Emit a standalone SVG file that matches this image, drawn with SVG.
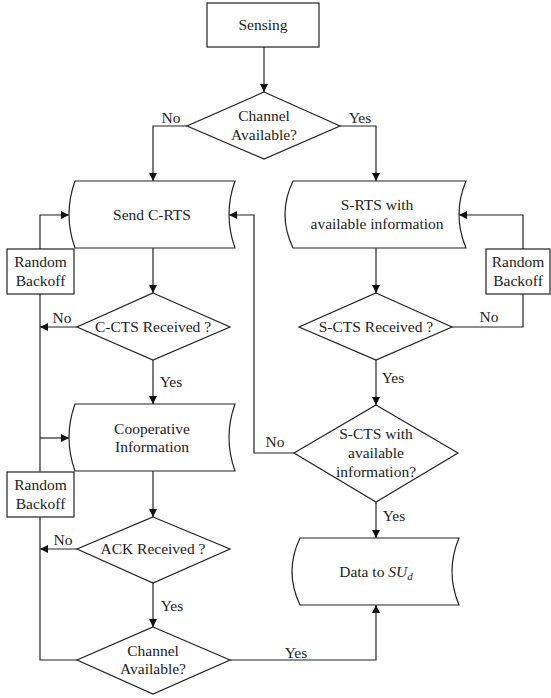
<svg xmlns="http://www.w3.org/2000/svg" width="551" height="698" viewBox="0 0 551 698">
<defs>
<style>
.s{fill:#fff;stroke:#222;stroke-width:1.2}
.c{fill:none;stroke:#222;stroke-width:1.2}
text{font-family:"Liberation Serif","Times New Roman",serif;font-size:15.5px;fill:#222;text-anchor:middle}
.l{text-anchor:middle}
</style>
<marker id="a" viewBox="0 0 10 10" refX="10" refY="5" markerWidth="8" markerHeight="8" markerUnits="userSpaceOnUse" orient="auto">
<path d="M0,0 L10,5 L0,10 z" fill="#111"/>
</marker>
</defs>
<rect width="551" height="698" fill="#fff"/>

<g id="connectors">
<path class="c" d="M264,47 V92" marker-end="url(#a)"/>
<path class="c" d="M187,126 H153 V181" marker-end="url(#a)"/>
<path class="c" d="M340,126 H376 V181" marker-end="url(#a)"/>
<path class="c" d="M153,248 V293" marker-end="url(#a)"/>
<path class="c" d="M153,360 V404" marker-end="url(#a)"/>
<path class="c" d="M77,327 H40" marker-end="url(#a)"/>
<path class="c" d="M40,249 V215 H69" marker-end="url(#a)"/>
<path class="c" d="M40,294 V472"/>
<path class="c" d="M40,438 H69" marker-end="url(#a)"/>
<path class="c" d="M153,471 V517" marker-end="url(#a)"/>
<path class="c" d="M77,549 H40" marker-end="url(#a)"/>
<path class="c" d="M153,583 V627" marker-end="url(#a)"/>
<path class="c" d="M77,660 H40 V517"/>
<path class="c" d="M230,660 H376 V605" marker-end="url(#a)"/>
<path class="c" d="M376,248 V293" marker-end="url(#a)"/>
<path class="c" d="M376,360 V405" marker-end="url(#a)"/>
<path class="c" d="M452,327 H523 V294"/>
<path class="c" d="M523,249 V215 H459" marker-end="url(#a)"/>
<path class="c" d="M294,453 H254 V215 H229" marker-end="url(#a)"/>
<path class="c" d="M376,502 V538" marker-end="url(#a)"/>
<text x="171" y="123">No</text>
<text x="360" y="123">Yes</text>
<text x="62" y="323">No</text>
<text x="171" y="387">Yes</text>
<text x="489" y="322">No</text>
<text x="393" y="383">Yes</text>
<text x="275" y="447">No</text>
<text x="394" y="521">Yes</text>
<text x="63" y="545">No</text>
<text x="172" y="611">Yes</text>
<text x="296" y="658">Yes</text>
</g>

<g id="sensing">
<rect class="s" x="207" y="3" width="112" height="44"/>
<text x="263" y="30">Sensing</text>
</g>

<g id="channel1">
<path class="s" d="M264,92 L340,126 L264,159 L187,126 Z"/>
<text x="264" y="121">Channel</text>
<text x="264" y="140">Available?</text>
</g>

<g id="send-crts">
<path class="s" d="M75,181 H235 Q223,214.5 235,248 H75 Q63,214.5 75,181 Z"/>
<text x="152" y="220">Send C-RTS</text>
</g>

<g id="srts">
<path class="s" d="M293,181 H466 Q452,214.5 466,248 H293 Q277,214.5 293,181 Z"/>
<text x="377" y="210">S-RTS with</text>
<text x="377" y="229">available information</text>
</g>

<g id="backoff1">
<rect class="s" x="7" y="249" width="67" height="45"/>
<text x="40.5" y="267">Random</text>
<text x="40.5" y="286">Backoff</text>
</g>

<g id="backoff-right">
<rect class="s" x="486" y="249" width="64" height="45"/>
<text x="518" y="267">Random</text>
<text x="518" y="286">Backoff</text>
</g>

<g id="ccts">
<path class="s" d="M153,293 L230,327 L153,360 L77,327 Z"/>
<text x="153" y="332">C-CTS Received ?</text>
</g>

<g id="scts">
<path class="s" d="M376,293 L452,327 L376,360 L299,327 Z"/>
<text x="376" y="332">S-CTS Received ?</text>
</g>

<g id="coop">
<path class="s" d="M75,404 H235 Q223,437.5 235,471 H75 Q63,437.5 75,404 Z"/>
<text x="152" y="434">Cooperative</text>
<text x="152" y="452">Information</text>
</g>

<g id="scts-avail">
<path class="s" d="M376,405 L458,453 L376,502 L294,453 Z"/>
<text x="376" y="439">S-CTS with</text>
<text x="376" y="458">available</text>
<text x="376" y="477">information?</text>
</g>

<g id="backoff2">
<rect class="s" x="7" y="472" width="67" height="45"/>
<text x="40.5" y="490">Random</text>
<text x="40.5" y="509">Backoff</text>
</g>

<g id="ack">
<path class="s" d="M153,517 L230,549 L153,583 L77,549 Z"/>
<text x="153" y="554">ACK Received ?</text>
</g>

<g id="data">
<path class="s" d="M300,538 H459 Q445,571.5 459,605 H300 Q284,571.5 300,538 Z"/>
<text x="376" y="577">Data to <tspan font-style="italic">SU</tspan><tspan font-style="italic" font-size="11" dy="3">d</tspan></text>
</g>

<g id="channel2">
<path class="s" d="M153,627 L230,660 L153,694 L77,660 Z"/>
<text x="153" y="656">Channel</text>
<text x="153" y="674">Available?</text>
</g>
</svg>
